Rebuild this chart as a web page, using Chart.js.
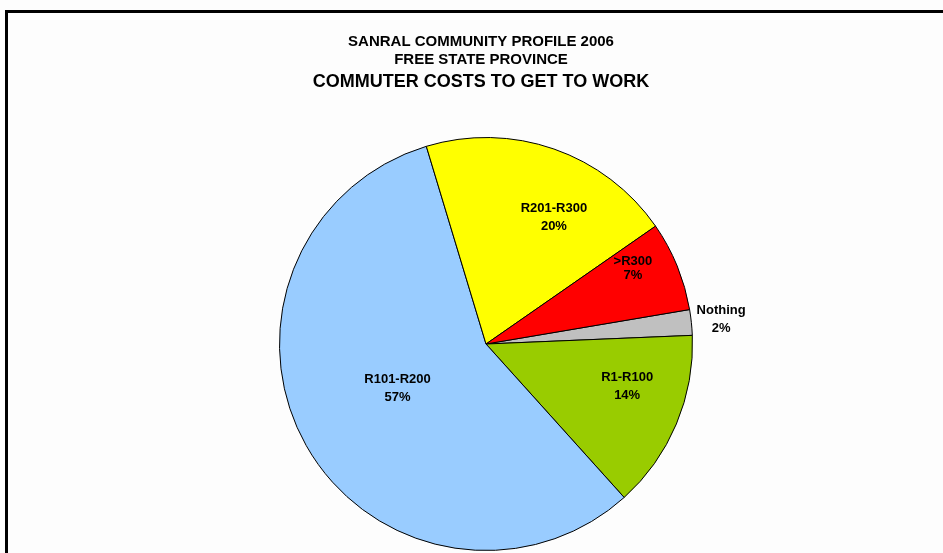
<!DOCTYPE html>
<html>
<head>
<meta charset="utf-8">
<title>Commuter costs to get to work</title>
<script src="https://cdn.jsdelivr.net/npm/chart.js@4.4.0/dist/chart.umd.min.js"></script>
<style>
  html, body { margin: 0; padding: 0; background: #fdfdfd; }
  #wrap { position: relative; width: 943px; height: 553px; overflow: hidden; }
  #frame {
    position: absolute; left: 5px; top: 10px; width: 980px; height: 600px;
    border-left: 3px solid #000; border-top: 3px solid #000; pointer-events: none;
  }
</style>
</head>
<body>
<div id="wrap">
  <canvas id="costChart" width="943" height="553"></canvas>
  <div id="frame"></div>
</div>
<script>
'use strict'

var titleLines = ['SANRAL COMMUNITY PROFILE 2006', 'FREE STATE PROVINCE'];
var subTitle = 'COMMUTER COSTS TO GET TO WORK';

var categories = ['Nothing', 'R1-R100', 'R101-R200', 'R201-R300', '>R300'];
var shares = [2, 14, 57, 20, 7];
var sliceColours = ['#c0c0c0', '#99cc00', '#99ccff', '#ffff00', '#ff0000'];

// label spot per slice: share of the radius, and degrees turned off the slice middle
var labelRadius = [1.145, 0.714, 0.48, 0.696, 0.80];
var labelTurn = [0, -6, 2.6, 9, -5];
var labelGap = [18, 18, 18, 18, 14];

var FONT = '"Liberation Sans", Arial, sans-serif';

// two-line labels (name + percent) on each slice
var sliceLabels = {
  id: 'sliceLabels',
  afterDatasetsDraw: function(chart) {
    var ctx = chart.ctx;
    var meta = chart.getDatasetMeta(0);
    ctx.save();
    ctx.font = 'bold 13px ' + FONT;
    ctx.fillStyle = '#000';
    ctx.textAlign = 'center';
    ctx.textBaseline = 'middle';
    meta.data.forEach(function(arc, i) {
      var p = arc.getProps(['x', 'y', 'startAngle', 'endAngle', 'outerRadius']);
      var mid = (p.startAngle + p.endAngle) / 2 + labelTurn[i] * Math.PI / 180;
      var r = p.outerRadius * labelRadius[i];
      var x = p.x + Math.cos(mid) * r;
      var y = p.y + Math.sin(mid) * r;
      ctx.fillText(categories[i], x, y - labelGap[i] / 2);
      ctx.fillText(shares[i] + '%', x, y + labelGap[i] / 2);
    });
    ctx.restore();
  }
};

// heading block above the pie
var headings = {
  id: 'headings',
  afterDraw: function(chart) {
    var ctx = chart.ctx;
    var cx = 481;
    ctx.save();
    ctx.fillStyle = '#000';
    ctx.textAlign = 'center';
    ctx.textBaseline = 'alphabetic';
    ctx.font = 'bold 15px ' + FONT;
    ctx.fillText(titleLines[0], cx, 46);
    ctx.fillText(titleLines[1], cx, 64);
    ctx.font = 'bold 18px ' + FONT;
    ctx.fillText(subTitle, cx, 87);
    ctx.restore();
  }
};

function renderChart() {
  var ctx = document.getElementById('costChart').getContext('2d');
  var chart = new Chart(ctx, {
    type: 'pie',
    data: {
      labels: categories,
      datasets: [{
        data: shares,
        backgroundColor: sliceColours,
        borderColor: '#000',
        borderWidth: 1,
        hoverOffset: 0
      }]
    },
    options: {
      responsive: false,
      animation: false,
      events: [],
      rotation: 80.4,
      layout: {
        padding: { top: 137, bottom: 2, left: 100, right: 71 }
      },
      plugins: {
        legend: { display: false },
        title: { display: false },
        tooltip: { enabled: false }
      }
    },
    plugins: [sliceLabels, headings]
  });
}

renderChart();
</script>
</body>
</html>
